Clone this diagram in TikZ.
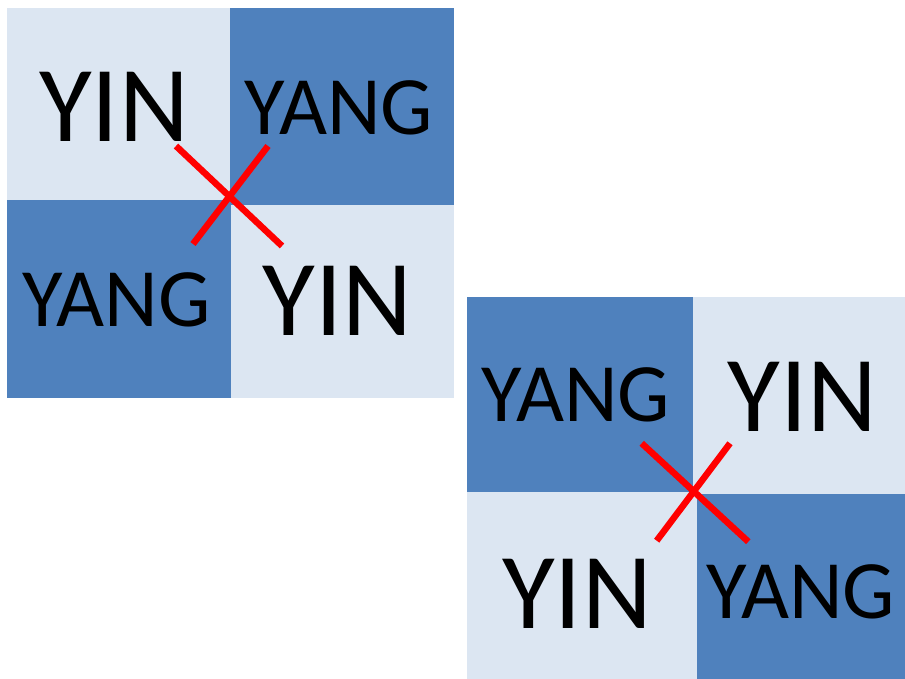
\documentclass[tikz,border=0pt]{standalone}
\usepackage{fontspec}
\setmainfont{Carlito}
\definecolor{darkblue}{HTML}{4F81BD}
\definecolor{lightblue}{HTML}{DCE6F2}
\definecolor{xred}{HTML}{FF0000}
\tikzset{
  big/.style={anchor=base, inner sep=0pt, font=\fontsize{108}{108}\selectfont},
  small/.style={anchor=base, inner sep=0pt, font=\fontsize{83}{83}\selectfont},
  cross/.style={draw=xred, line width=6.5pt},
}
\begin{document}
\begin{tikzpicture}[x=1pt,y=1pt]
\useasboundingbox (0,0) rectangle (905,-679);
\fill[white] (0,0) rectangle (905,-679);
% grid 1
\fill[lightblue] (7,-8) rectangle (229.5,-200);
\fill[darkblue] (229.5,-8) rectangle (454,-205);
\fill[darkblue] (7,-200) rectangle (231,-398);
\fill[lightblue] (231,-205) rectangle (454,-398);
\node[big] (g1a) at (114,-142) {YIN};
\node[small] (g1b) at (339,-135) {YANG};
\node[small] (g1c) at (116.5,-326) {YANG};
\node[big] (g1d) at (337.5,-335) {YIN};
\coordinate (g1p1) at (176,-146);
\coordinate (g1p2) at (282,-246);
\coordinate (g1q1) at (268,-146);
\coordinate (g1q2) at (193,-244);
\draw[cross] (g1p1) -- (g1p2);
\draw[cross] (g1q1) -- (g1q2);
% grid 2
\fill[darkblue] (466.5,-297) rectangle (693,-492);
\fill[lightblue] (693,-297) rectangle (905,-494);
\fill[lightblue] (466.5,-492) rectangle (696.5,-679);
\fill[darkblue] (696.5,-494) rectangle (905,-679);
\node[small] (g2a) at (576,-421.7) {YANG};
\node[big] (g2b) at (802.5,-431.7) {YIN};
\node[big] (g2c) at (577,-628) {YIN};
\node[small] (g2d) at (801,-618.3) {YANG};
\coordinate (g2p1) at (641.7,-443.3);
\coordinate (g2p2) at (748.3,-541.7);
\coordinate (g2q1) at (730,-443.3);
\coordinate (g2q2) at (656.7,-540.7);
\draw[cross] (g2p1) -- (g2p2);
\draw[cross] (g2q1) -- (g2q2);
\end{tikzpicture}
\end{document}
